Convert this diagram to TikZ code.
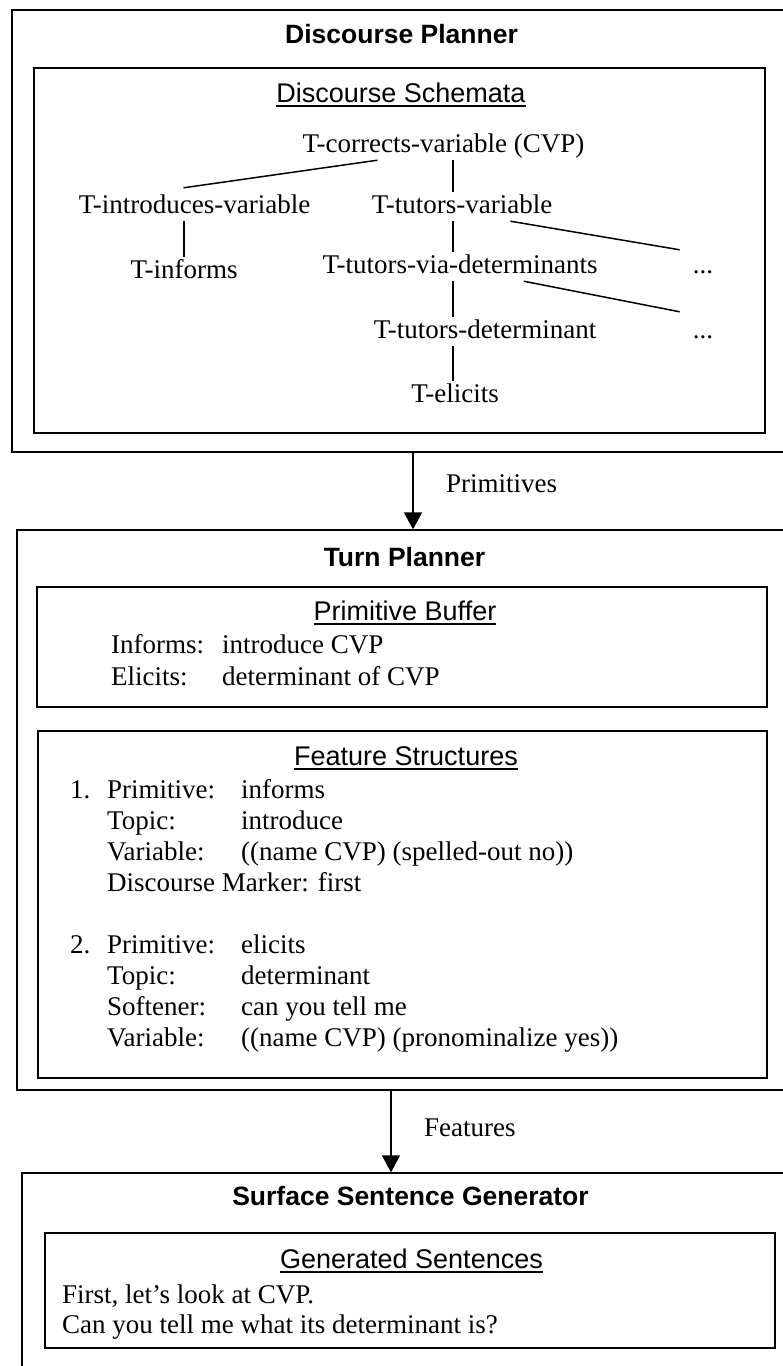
\documentclass[tikz,border=0pt]{standalone}
\usepackage{fontspec}
\setmainfont{Liberation Serif}
\setsansfont{Liberation Sans}
\usetikzlibrary{arrows.meta}

% underlined box titles
\newcommand{\ulhead}[1]{{\setbox0=\hbox{#1}\rlap{\copy0}\rule[-5pt]{\wd0}{1.6pt}}}

\tikzset{
  outerbox/.style={draw, line width=1.3pt, inner sep=0pt},
  innerbox/.style={draw, line width=2pt, inner sep=0pt},
  heading/.style={anchor=base, inner sep=0pt, font=\sffamily\bfseries\fontsize{26.5}{30}\selectfont},
  subhead/.style={anchor=base, inner sep=0pt, font=\sffamily\fontsize{27}{30}\selectfont},
  body/.style={anchor=base west, inner sep=0pt, font=\fontsize{27}{31}\selectfont},
  schema/.style={anchor=base, inner xsep=0pt, inner ysep=2pt, text height=19pt, text depth=6pt, font=\fontsize{27}{31}\selectfont},
  link/.style={line width=1.5pt},
  flow/.style={line width=1.5pt, -{Triangle[width=18pt,length=17pt]}}
}

\begin{document}
\begin{tikzpicture}[x=1pt, y=-1pt]
  \useasboundingbox (0,0) rectangle (783,1366);

  % the three planners
  \node[outerbox, minimum width=778pt, minimum height=442pt] (dp) at (401,231) {};
  \node[outerbox, minimum width=773pt, minimum height=560pt] (tp) at (403.5,810) {};
  \node[outerbox, minimum width=768pt, minimum height=217pt] (sg) at (406,1281.5) {};

  \node[innerbox, minimum width=731pt, minimum height=365pt] (ds) at (399.5,250.5) {};
  \node[innerbox, minimum width=730pt, minimum height=120pt] (pb) at (402,647) {};
  \node[innerbox, minimum width=729pt, minimum height=347pt] (fs) at (402.5,904.5) {};
  \node[innerbox, minimum width=730pt, minimum height=115pt] (gs) at (410,1290.5) {};

  \node[heading] (dptitle) at (401.5,43) {Discourse Planner};
  \node[heading] (tptitle) at (404.5,566) {Turn Planner};
  \node[heading] (sgtitle) at (410.5,1205) {Surface Sentence Generator};

  \node[subhead] (dstitle) at (401,102) {\ulhead{Discourse Schemata}};
  \node[subhead] (pbtitle) at (405,620) {\ulhead{Primitive Buffer}};
  \node[subhead] (fstitle) at (406,765) {\ulhead{Feature Structures}};
  \node[subhead] (gstitle) at (411.5,1268) {\ulhead{Generated Sentences}};

  % schemata tree
  \coordinate (spine) at (453,0);
  \draw
    (443.5,152) node[schema] (corr) {T-corrects-variable (CVP)}
    (194.5,213) node[schema] (intro) {T-introduces-variable}
    (462,213) node[schema] (tvar) {T-tutors-variable}
    (184,278) node[schema] (inform) {T-informs}
    (460,273) node[schema] (tvia) {T-tutors-via-determinants}
    (703,273) node[schema] (more1) {...}
    (485,338) node[schema] (tdet) {T-tutors-determinant}
    (703,338) node[schema] (more2) {...}
    (455,402) node[schema] (elic) {T-elicits};
  \begin{scope}[link]
    \draw ([xshift=75pt]corr.south west) to ([xshift=-11pt,yshift=4pt]intro.north);
    \draw (corr.south -| spine) to (tvar.north -| spine);
    \draw (inform.north |- intro.south) to (inform.north);
    \draw (tvar.south -| spine) to (tvia.north -| spine);
    \draw ([xshift=-42pt]tvar.south east) to ([xshift=-13pt,yshift=2pt]more1.north west);
    \draw (tvia.south -| spine) to (tdet.north -| spine);
    \draw ([xshift=-74pt]tvia.south east) to ([xshift=-13pt,yshift=5pt]more2.north west);
    \draw (tdet.south -| spine) to (elic.north -| spine);
  \end{scope}

  % buffer and features
  \node[body, font=\fontsize{27}{32}\selectfont] (prims) at (111,653)
    {\begin{tabular}[t]{@{}p{111pt}@{}l@{}}
      Informs: & introduce CVP\\
      Elicits: & determinant of CVP
    \end{tabular}};
  \node[body] (feats) at (70,798)
    {\begin{tabular}[t]{@{}p{37pt}@{}p{134pt}@{}l@{}}
      1. & Primitive: & informs\\
         & Topic: & introduce\\
         & Variable: & ((name CVP) (spelled-out no))\\
         & \multicolumn{2}{@{}l@{}}{Discourse Marker: first}\\[31pt]
      2. & Primitive: & elicits\\
         & Topic: & determinant\\
         & Softener: & can you tell me\\
         & Variable: & ((name CVP) (pronominalize yes))
    \end{tabular}};
  \node[body, font=\fontsize{27}{30}\selectfont] (sents) at (62,1303)
    {\begin{tabular}[t]{@{}l@{}}
      First, let's look at CVP.\\
      Can you tell me what its determinant is?
    \end{tabular}};

  % flow between planners
  \coordinate (a1) at (413,0);
  \coordinate (a2) at (391,0);
  \draw[flow] (dp.south -| a1) to (tp.north -| a1);
  \draw[flow] (tp.south -| a2) to (sg.north -| a2);
  \node[body] (primlbl) at (446,492) {Primitives};
  \node[body] (featlbl) at (424,1136) {Features};
\end{tikzpicture}
\end{document}
